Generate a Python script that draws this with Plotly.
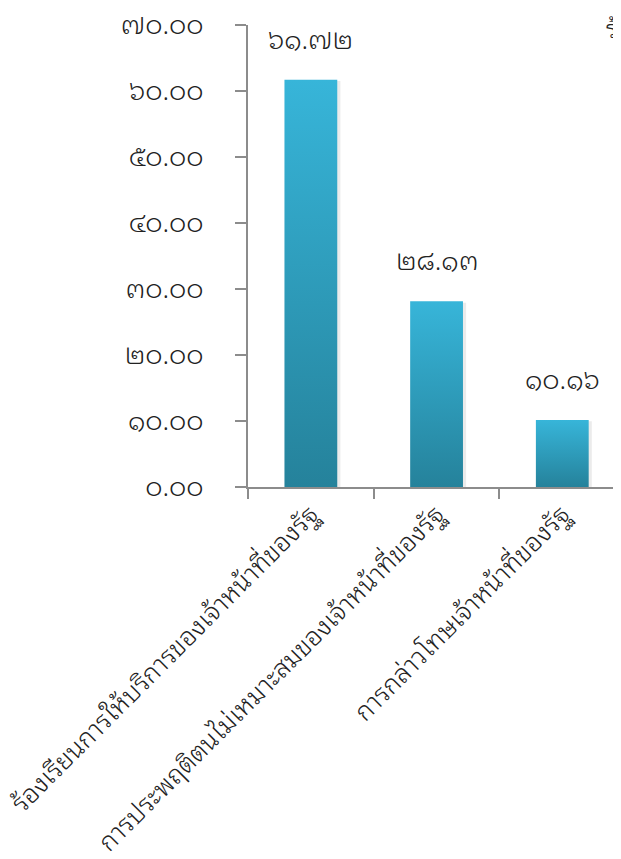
import plotly.graph_objects as go

categories = [
    "ร้องเรียนการให้บริการของเจ้าหน้าที่ของรัฐ",
    "การประพฤติตนไม่เหมาะสมของเจ้าหน้าที่ของรัฐ",
    "การกล่าวโทษเจ้าหน้าที่ของรัฐ",
]
values = [61.72, 28.13, 10.16]
y_ticks = [0, 10, 20, 30, 40, 50, 60, 70]
side_title = "ร้อยละ"

THAI = str.maketrans("0123456789", "๐๑๒๓๔๕๖๗๘๙")


def thai(v):
    return f"{v:.2f}".translate(THAI)


FONT = "Noto Sans Thai Looped, sans-serif"
WEIGHT = 300
AXIS_COLOR = "#8c8c8c"
TOP_COLOR = "#37b5d9"
BOTTOM_COLOR = "#25829b"
HALF = 0.21

fig = go.Figure()
for i, v in enumerate(values):
    # faint shadow
    fig.add_trace(go.Scatter(
        x=[i - HALF + 0.015, i + HALF + 0.025, i + HALF + 0.025, i - HALF + 0.015, i - HALF + 0.015],
        y=[-0.3, -0.3, v - 0.2, v - 0.2, -0.3],
        fill="toself", mode="lines", line=dict(width=0),
        fillcolor="rgba(0,0,0,0.08)", hoverinfo="skip", showlegend=False,
    ))
    fig.add_trace(go.Scatter(
        x=[i - HALF, i + HALF, i + HALF, i - HALF, i - HALF],
        y=[0, 0, v, v, 0],
        fill="toself", mode="lines", line=dict(width=0),
        fillgradient=dict(type="vertical",
                          colorscale=[[0, BOTTOM_COLOR], [1, TOP_COLOR]]),
        hoverinfo="skip", showlegend=False,
    ))

for i, v in enumerate(values):
    fig.add_annotation(x=i, y=v, text=thai(v), showarrow=False,
                       yanchor="bottom", yshift=20,
                       font=dict(family=FONT, size=27, weight=WEIGHT, color="#222"))

fig.add_annotation(xref="paper", yref="paper", x=0.955, y=1.042, xanchor="left",
                   yanchor="top", text=side_title, showarrow=False,
                   font=dict(family=FONT, size=24, weight=WEIGHT, color="#222"))

fig.update_layout(
    width=613, height=843,
    margin=dict(l=240, r=0, t=17, b=364, autoexpand=False),
    paper_bgcolor="white", plot_bgcolor="white",
    font=dict(family=FONT, color="#222"),
    xaxis=dict(
        range=[-0.5, 2.467], tickvals=[0, 1, 2], ticktext=categories,
        ticks="", tickangle=-45, showgrid=False, zeroline=False, automargin=False,
        showline=True, linecolor=AXIS_COLOR, linewidth=2, ticklabeloverflow="allow",
        tickfont=dict(family=FONT, size=26, weight=WEIGHT, color="#222"),
        minor=dict(ticks="outside", tick0=-0.5, dtick=1, ticklen=10,
                   tickwidth=2, tickcolor=AXIS_COLOR, showgrid=False),
    ),
    yaxis=dict(
        range=[0, 70], tickvals=y_ticks, ticktext=[thai(t) for t in y_ticks],
        ticks="outside", ticklen=11, tickwidth=2, tickcolor=AXIS_COLOR,
        showline=True, linecolor=AXIS_COLOR, linewidth=2, ticklabeloverflow="allow",
        showgrid=False, zeroline=False, ticklabelstandoff=26, automargin=False,
        tickfont=dict(family=FONT, size=27, weight=WEIGHT, color="#222"),
    ),
)

fig.write_html("out.html")
